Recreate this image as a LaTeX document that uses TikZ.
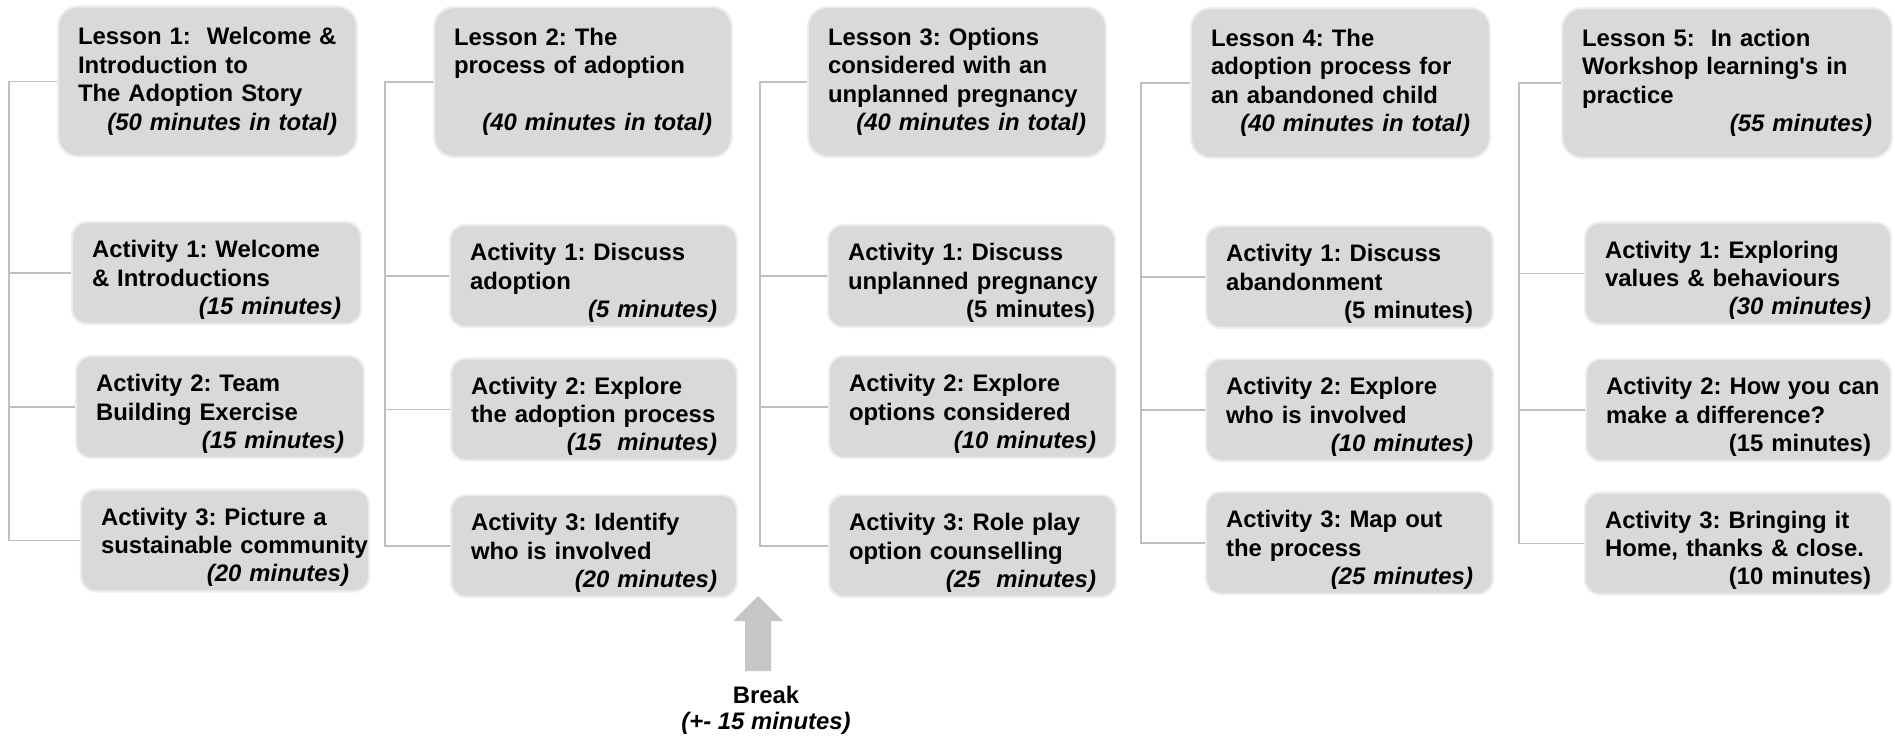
\documentclass[tikz,border=0pt]{standalone}
\usepackage{fontspec}
\setmainfont{Liberation Sans}
\frenchspacing

\definecolor{boxgray}{HTML}{D9D9D9}
\definecolor{rimgray}{HTML}{EDEDED}
\definecolor{linkgray}{HTML}{BFBFBF}
\definecolor{arrowgray}{HTML}{C6C6C6}

% duration line, pushed to the right edge of a card
\newcommand{\mins}[1]{\hspace*{\fill}\textit{#1}\hspace*{0.7cm}\mbox{}}
\newcommand{\minsup}[1]{\hspace*{\fill}#1\hspace*{0.7cm}\mbox{}}
\newcommand{\cardskips}{\leftskip=0.4cm\relax\rightskip=-0.3cm plus 1fil\relax}

\tikzset{
    card/.style={fill=boxgray, draw=rimgray, line width=1.2pt, inner xsep=0pt, inner ysep=2pt,
        align=left, font=\fontsize{13.6pt}{16.2pt}\selectfont\bfseries},
    lessonbox/.style={card, rounded corners=0.4cm, text width=#1, minimum height=3cm,
        execute at begin node={\cardskips}},
    lessonbox/.default=5.98cm,
    actbox/.style={card, rounded corners=0.3cm, text width=#1, minimum height=2.04cm,
        execute at begin node={\cardskips\rule{0pt}{0.62cm}}},
    actbox/.default=5.76cm,
    link/.style={draw=linkgray, line width=1.1pt},
}

\begin{document}
\begin{tikzpicture}[x=0.02cm, y=-0.02cm]
    \useasboundingbox (0,0) rectangle (1895,737);

    % Lesson 1
    \node[lessonbox] (l1) at (207.5,81.5) {Lesson 1: \ Welcome \&\\Introduction to\\The Adoption Story\\\mins{(50 minutes in total)}};
    \node[actbox=5.78cm] (a11) at (216.5,273) {Activity 1: Welcome\\\& Introductions\\\mins{(15 minutes)}};
    \node[actbox] (a12) at (220,407) {Activity 2: Team\\Building Exercise\\\mins{(15 minutes)}};
    \node[actbox] (a13) at (225,540.5) {Activity 3: Picture a\\sustainable community\\\mins{(20 minutes)}};

    % Lesson 2
    \node[lessonbox=5.96cm] (l2) at (583,82) {Lesson 2: The\\process of adoption\\\mbox{}\\\mins{(40 minutes in total)}};
    \node[actbox=5.74cm] (a21) at (593.5,276) {Activity 1: Discuss\\adoption\\\mins{(5 minutes)}};
    \node[actbox=5.72cm] (a22) at (594,409.5) {Activity 2: Explore\\the adoption process\\\mins{(15 \ minutes)}};
    \node[actbox=5.72cm] (a23) at (594,546) {Activity 3: Identify\\who is involved\\\mins{(20 minutes)}};

    % Lesson 3
    \node[lessonbox=5.96cm] (l3) at (957,82) {Lesson 3: Options\\considered with an\\unplanned pregnancy\\\mins{(40 minutes in total)}};
    \node[actbox=5.74cm] (a31) at (971.5,276) {Activity 1: Discuss\\unplanned pregnancy\\\minsup{(5 minutes)}};
    \node[actbox=5.74cm] (a32) at (972.5,407) {Activity 2: Explore\\options considered\\\mins{(10 minutes)}};
    \node[actbox=5.74cm] (a33) at (972.5,546) {Activity 3: Role play\\option counselling\\\mins{(25 \ minutes)}};

    % Lesson 4
    \node[lessonbox] (l4) at (1340.5,83) {Lesson 4: The\\adoption process for\\an abandoned child\\\mins{(40 minutes in total)}};
    \node[actbox=5.74cm] (a41) at (1349.5,277) {Activity 1: Discuss\\abandonment\\\minsup{(5 minutes)}};
    \node[actbox=5.74cm] (a42) at (1349.5,410) {Activity 2: Explore\\who is involved\\\mins{(10 minutes)}};
    \node[actbox=5.74cm] (a43) at (1349.5,543) {Activity 3: Map out\\the process\\\mins{(25 minutes)}};

    % Lesson 5
    \node[lessonbox=6.6cm] (l5) at (1727,83) {Lesson 5: \ In action\\Workshop learning\textquotesingle s in\\practice\\\mins{(55 minutes)}};
    \node[actbox=6.12cm] (a51) at (1738,273.5) {Activity 1: Exploring\\values \& behaviours\\\mins{(30 minutes)}};
    \node[actbox=6.1cm] (a52) at (1738.5,410) {Activity 2: How you can\\make a difference?\\\minsup{(15 minutes)}};
    \node[actbox=6.12cm] (a53) at (1738,543.5) {Activity 3: Bringing it\\Home, thanks \& close.\\\minsup{(10 minutes)}};

    % brackets
    \foreach \c/\bx in {1/9,2/385,3/760,4/1141,5/1519} {
        \coordinate (s\c) at (\bx,0);
        \draw[link] (l\c.west) -- (s\c |- l\c.west) |- (a\c3.west);
        \foreach \k in {1,2}
            \draw[link] (s\c |- a\c\k.west) -- (a\c\k.west);
    }

    % break
    \node[font=\fontsize{13.6pt}{14.8pt}\selectfont\bfseries, align=center] (brk) at (766,710) {Break\\\textit{(+- 15 minutes)}};
    \fill[arrowgray] (745,671) -- (745,621) -- (733,621) -- (758,596) -- (783,621) -- (771,621) -- (771,671) -- cycle;
\end{tikzpicture}
\end{document}
